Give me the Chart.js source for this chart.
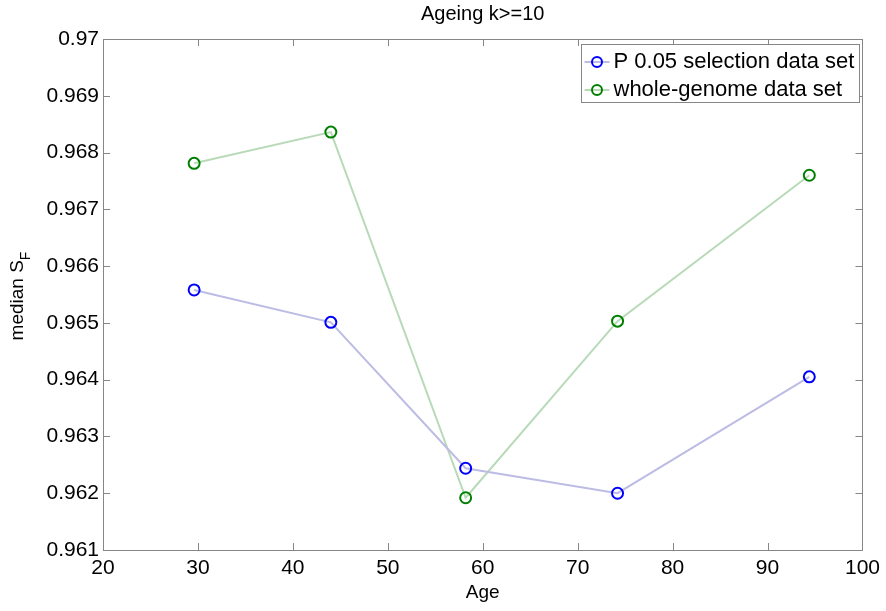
<!DOCTYPE html>
<html>
<head>
<meta charset="utf-8">
<script src="https://cdn.jsdelivr.net/npm/chart.js@4/dist/chart.umd.min.js"></script>
<style>
  html, body { margin: 0; padding: 0; background: #fff; }
  #wrap { width: 886px; height: 611px; }
</style>
</head>
<body>
<div id="wrap"><canvas id="chart" width="886" height="611"></canvas></div>
<script>
// valores
const ages = [29.6, 44.0, 58.2, 74.2, 94.4];
const selectionSF = [0.96558, 0.96501, 0.96244, 0.96200, 0.96405];
const wholeGenomeSF = [0.96781, 0.96836, 0.96192, 0.96503, 0.96760];
const seriesNames = ['P 0.05 selection data set', 'whole-genome data set'];
const xTicks = [20, 30, 40, 50, 60, 70, 80, 90, 100];
const yTicks = [0.961, 0.962, 0.963, 0.964, 0.965, 0.966, 0.967, 0.968, 0.969, 0.97];

const FONT = '"Liberation Sans", Arial, Helvetica, sans-serif';
const AXIS_GRAY = '#868686';

function toPoints(xs, ys) {
    return xs.map((x, i) => ({ x: x, y: ys[i] }));
}

function fmtY(v) {
    return String(parseFloat(v.toFixed(3)));
}

// eixo estilo matlab: caixa, ticks para dentro, titulo, legenda
const matlabDecor = {
    id: 'matlabDecor',
    beforeDatasetsDraw(chart) {
        const ctx = chart.ctx;
        const a = chart.chartArea;
        const xs = chart.scales.x, ys = chart.scales.y;
        ctx.save();
        ctx.strokeStyle = AXIS_GRAY;
        ctx.lineWidth = 1;
        ctx.beginPath();
        ctx.rect(Math.round(a.left) + 0.5, Math.round(a.top) + 0.5, Math.round(a.right - a.left), Math.round(a.bottom - a.top));
        ctx.stroke();
        const tl = 7;
        ctx.beginPath();
        xTicks.forEach(t => {
            const px = Math.round(xs.getPixelForValue(t)) + 0.5;
            ctx.moveTo(px, a.bottom); ctx.lineTo(px, a.bottom - tl);
            ctx.moveTo(px, a.top); ctx.lineTo(px, a.top + tl);
        });
        yTicks.forEach(t => {
            const py = Math.round(ys.getPixelForValue(t)) + 0.5;
            ctx.moveTo(a.left, py); ctx.lineTo(a.left + tl, py);
            ctx.moveTo(a.right, py); ctx.lineTo(a.right - tl, py);
        });
        ctx.stroke();
        ctx.restore();
    },
    afterDraw(chart) {
        const ctx = chart.ctx;
        const a = chart.chartArea;
        ctx.save();
        ctx.fillStyle = '#000';
        // titulo
        ctx.font = '20px ' + FONT;
        ctx.textAlign = 'center';
        ctx.textBaseline = 'middle';
        ctx.fillText('Ageing k>=10', (a.left + a.right) / 2, 14);
        // rotulo x
        ctx.font = '19px ' + FONT;
        ctx.fillText('Age', (a.left + a.right) / 2, 593);
        // rotulo y com subscrito
        ctx.translate(18, 296);
        ctx.rotate(-Math.PI / 2);
        ctx.font = '19px ' + FONT;
        const main = 'median S';
        const wMain = ctx.measureText(main).width;
        ctx.font = '14px ' + FONT;
        const wSub = ctx.measureText('F').width;
        const x0 = -(wMain + wSub) / 2;
        ctx.textAlign = 'left';
        ctx.font = '19px ' + FONT;
        ctx.fillText(main, x0, 0);
        ctx.font = '14px ' + FONT;
        ctx.fillText('F', x0 + wMain, 8);
        ctx.setTransform(1, 0, 0, 1, 0, 0);

        // legenda
        const bx = 581.5, by = 44.5, bw = 278, bh = 58;
        ctx.fillStyle = '#fff';
        ctx.fillRect(bx, by, bw, bh);
        ctx.strokeStyle = AXIS_GRAY;
        ctx.lineWidth = 1;
        ctx.strokeRect(bx, by, bw, bh);
        const rows = [62, 90];
        chart.data.datasets.forEach((ds, i) => {
            const cy = rows[i];
            ctx.strokeStyle = ds.borderColor;
            ctx.lineWidth = 2;
            ctx.beginPath();
            ctx.moveTo(bx + 3, cy); ctx.lineTo(bx + 28, cy);
            ctx.stroke();
            ctx.strokeStyle = ds.pointBorderColor;
            ctx.lineWidth = 2;
            ctx.beginPath();
            ctx.arc(bx + 15.5, cy, 5, 0, Math.PI * 2);
            ctx.stroke();
            ctx.fillStyle = '#000';
            ctx.font = '22px ' + FONT;
            ctx.textAlign = 'left';
            ctx.textBaseline = 'middle';
            ctx.fillText(seriesNames[i], bx + 32, cy);
        });
        ctx.restore();
    }
};

new Chart(document.getElementById('chart'), {
    type: 'line',
    data: {
        datasets: [{
            label: seriesNames[0],
            data: toPoints(ages, selectionSF),
            borderColor: '#bcbce4',
            borderWidth: 2,
            pointBorderColor: '#0000ff',
            pointBackgroundColor: 'rgba(0,0,0,0)',
            pointBorderWidth: 2,
            pointRadius: 5.5,
            tension: 0
        }, {
            label: seriesNames[1],
            data: toPoints(ages, wholeGenomeSF),
            borderColor: '#b8dab8',
            borderWidth: 2,
            pointBorderColor: '#008000',
            pointBackgroundColor: 'rgba(0,0,0,0)',
            pointBorderWidth: 2,
            pointRadius: 5.5,
            tension: 0
        }]
    },
    options: {
        responsive: false,
        animation: false,
        layout: { padding: { left: 0, right: 22, top: 39, bottom: 0 } },
        plugins: {
            legend: { display: false },
            tooltip: { enabled: false },
            title: { display: false }
        },
        scales: {
            x: {
                type: 'linear',
                min: 20, max: 100,
                afterFit: s => { s.height = 61; },
                afterBuildTicks: s => { s.ticks = xTicks.map(v => ({ value: v })); },
                grid: { display: false, drawTicks: false },
                border: { display: false },
                ticks: { padding: 6, color: '#000', font: { family: FONT, size: 21 } }
            },
            y: {
                type: 'linear',
                min: 0.961, max: 0.97,
                afterFit: s => { s.width = 103; },
                afterBuildTicks: s => { s.ticks = yTicks.map(v => ({ value: v })); },
                grid: { display: false, drawTicks: false },
                border: { display: false },
                ticks: { padding: 4, color: '#000', font: { family: FONT, size: 21 }, callback: v => fmtY(v) }
            }
        }
    },
    plugins: [matlabDecor]
});
</script>
</body>
</html>
